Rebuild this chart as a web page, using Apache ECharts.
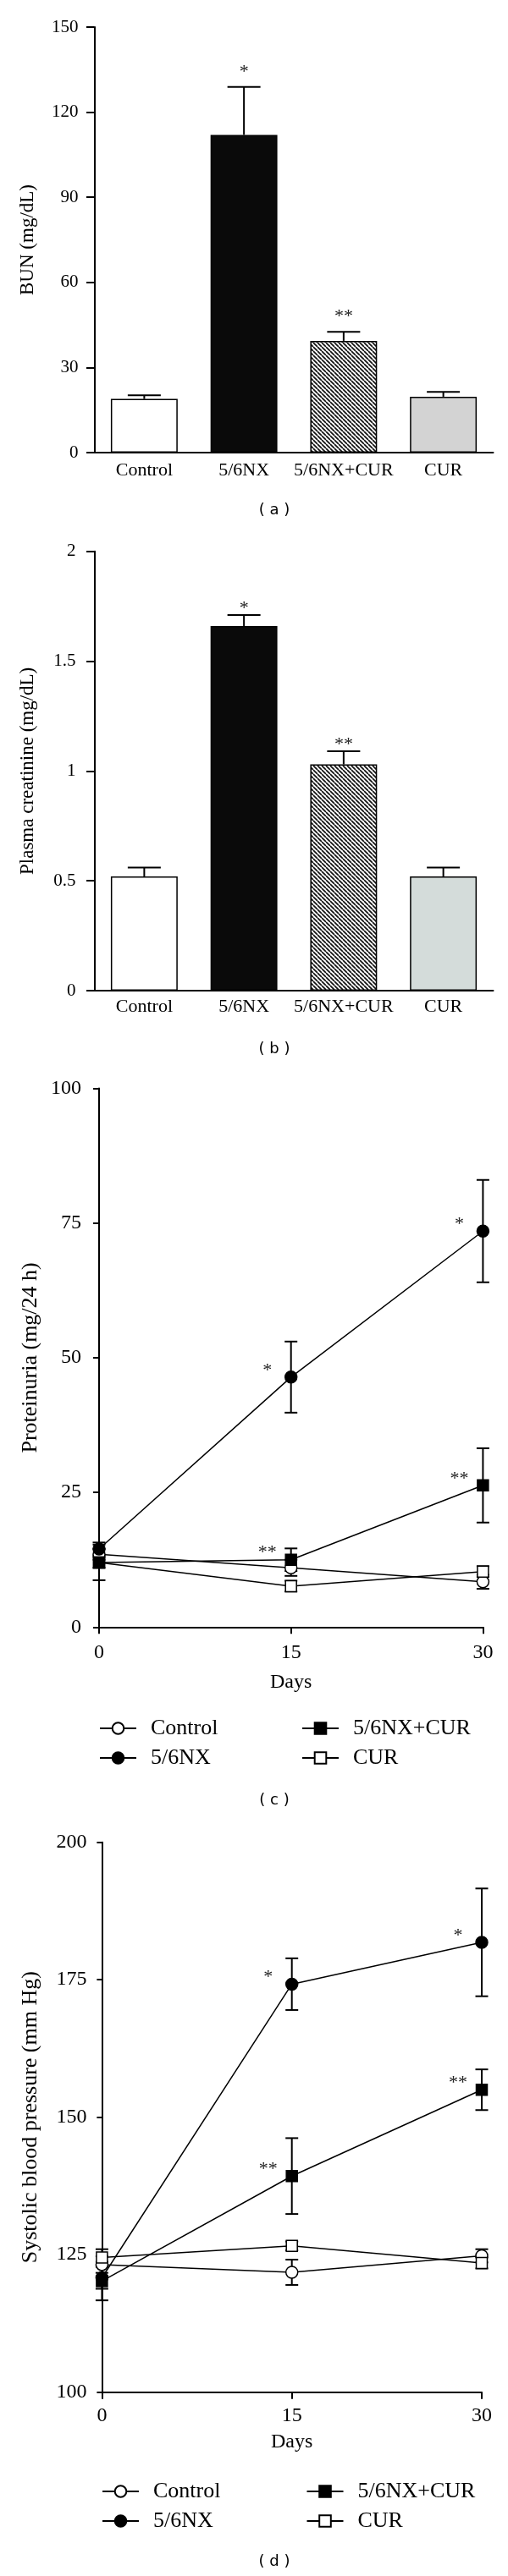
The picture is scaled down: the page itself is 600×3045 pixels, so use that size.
<!DOCTYPE html>
<html>
<head>
<meta charset="utf-8">
<script src="https://cdn.jsdelivr.net/npm/echarts@6/dist/echarts.min.js"></script>
<style>
  body { margin: 0; background: #fff; }
  #main { width: 600px; height: 3045px; }
</style>
</head>
<body>
<div id="main"></div>
<script>
// bar panels (a) and (b)
const groups = ["Control", "5/6NX", "5/6NX+CUR", "CUR"];
const bunMean = [18.9, 112, 39.4, 19.7];
const bunErr = [1.3, 16.9, 3.2, 1.7];
const bunSig = ["", "*", "**", ""];
const creatMean = [0.52, 1.66, 1.03, 0.52];
const creatErr = [0.04, 0.05, 0.06, 0.04];
const creatSig = ["", "*", "**", ""];

// line panels (c) and (d)
const days = [0, 15, 30];
const protControl = [13.5, 11.0, 8.4];
const protControlErr = [1.0, 1.5, 1.3];
const protNx = [14.5, 46.4, 73.5];
const protNxErr = [1.2, 6.6, 9.5];
const protNxCur = [12.0, 12.5, 26.3];
const protNxCurErr = [3.3, 2.1, 6.9];
const protCur = [12.0, 7.6, 10.3];
const protCurErr = [1.0, 1.0, 1.0];
const protNxSig = ["", "*", "*"];
const protNxCurSig = ["", "**", "**"];

const bpControl = [123.2, 121.8, 124.8];
const bpControlErr = [1.5, 2.3, 1.2];
const bpNx = [120.8, 174.2, 181.8];
const bpNxErr = [2.0, 4.7, 9.8];
const bpNxCur = [120.2, 139.3, 155.0];
const bpNxCurErr = [3.5, 6.9, 3.7];
const bpCur = [124.5, 126.6, 123.5];
const bpCurErr = [1.5, 0.8, 1.0];
const bpNxSig = ["", "*", "*"];
const bpNxCurSig = ["", "**", "**"];

const serif = '"Liberation Serif", "Times New Roman", serif';

// diagonal hatch for the 5/6NX+CUR bar
function hatch() {
  const s = 5;
  const c = document.createElement("canvas");
  c.width = s; c.height = s;
  const g = c.getContext("2d");
  g.fillStyle = "#fff";
  g.fillRect(0, 0, s, s);
  g.strokeStyle = "#111";
  g.lineWidth = 1.7;
  [-1, 0, 1].forEach(function (k) {
    g.beginPath();
    g.moveTo(k * s, 0);
    g.lineTo(k * s + s, s);
    g.stroke();
  });
  return { image: c, repeat: "repeat" };
}

function barFills(curColor) {
  return ["#fff", "#0a0a0a", hatch(), curColor];
}

function barSeries(idx, means, curColor) {
  const fills = barFills(curColor);
  return {
    type: "bar",
    xAxisIndex: idx,
    yAxisIndex: idx,
    barWidth: "67%",
    z: 2,
    data: means.map(function (v, i) {
      return { value: v, itemStyle: { color: fills[i] } };
    }),
    itemStyle: { borderColor: "#000", borderWidth: 1.5 },
  };
}

// upper error bar + significance mark over each bar
function barErrSeries(idx, means, errs, sigs, gap) {
  return {
    type: "custom",
    xAxisIndex: idx,
    yAxisIndex: idx,
    z: 3,
    data: means.map(function (v, i) { return [i, v, errs[i]]; }),
    renderItem: function (params, api) {
      const i = api.value(0), m = api.value(1), e = api.value(2);
      const base = api.coord([i, m]);
      const top = api.coord([i, m + e]);
      const st = { stroke: "#000", lineWidth: 2 };
      const kids = [
        { type: "line", shape: { x1: base[0], y1: base[1], x2: top[0], y2: top[1] }, style: st },
        { type: "line", shape: { x1: top[0] - 19.5, y1: top[1], x2: top[0] + 19.5, y2: top[1] }, style: st },
      ];
      const s = sigs[params.dataIndex];
      if (s) {
        kids.push({
          type: "text", x: top[0], y: top[1] - gap,
          style: { text: s, fill: "#222", font: "22px " + serif,
            align: "center", verticalAlign: "middle", textAlign: "center", textVerticalAlign: "middle" },
        });
      }
      return { type: "group", children: kids };
    },
  };
}

function lineSeries(idx, name, values, symbol, filled) {
  return {
    name: name,
    type: "line",
    xAxisIndex: idx,
    yAxisIndex: idx,
    z: 4,
    data: days.map(function (d, i) { return [d, values[i]]; }),
    symbol: symbol,
    symbolSize: symbol === "circle" ? 14 : 13,
    showAllSymbol: true,
    lineStyle: { color: "#000", width: 1.5 },
    itemStyle: { color: filled ? "#000" : "#fff", borderColor: "#000", borderWidth: 1.5 },
    emphasis: { disabled: true },
  };
}

function lineErrSeries(idx, values, errs) {
  return {
    type: "custom",
    xAxisIndex: idx,
    yAxisIndex: idx,
    z: 3,
    data: days.map(function (d, i) { return [d, values[i], errs[i]]; }),
    renderItem: function (params, api) {
      const x = api.value(0), m = api.value(1), e = api.value(2);
      const hi = api.coord([x, m + e]);
      const lo = api.coord([x, m - e]);
      const w = 7.5;
      const st = { stroke: "#000", lineWidth: 2 };
      return {
        type: "group",
        children: [
          { type: "line", shape: { x1: hi[0], y1: hi[1], x2: lo[0], y2: lo[1] }, style: st },
          { type: "line", shape: { x1: hi[0] - w, y1: hi[1], x2: hi[0] + w, y2: hi[1] }, style: st },
          { type: "line", shape: { x1: lo[0] - w, y1: lo[1], x2: lo[0] + w, y2: lo[1] }, style: st },
        ],
      };
    },
  };
}

// asterisks up-left of the points
function sigSeries(idx, values, sigs) {
  return {
    type: "custom",
    xAxisIndex: idx,
    yAxisIndex: idx,
    z: 5,
    data: days.map(function (d, i) { return [d, values[i]]; }),
    renderItem: function (params, api) {
      const s = sigs[params.dataIndex];
      if (!s) return null;
      const p = api.coord([api.value(0), api.value(1)]);
      return {
        type: "text", x: p[0] - 28, y: p[1] - 8,
        style: { text: s, fill: "#222", font: "22px " + serif,
          align: "center", verticalAlign: "middle", textAlign: "center", textVerticalAlign: "middle" },
      };
    },
  };
}

function catAxis(idx, margin) {
  return {
    type: "category",
    gridIndex: idx,
    data: groups,
    axisTick: { show: false },
    axisLine: { lineStyle: { color: "#000", width: 2 } },
    axisLabel: { color: "#000", fontSize: 22, fontFamily: serif, margin: margin, interval: 0, hideOverlap: false },
  };
}

function dayAxis(idx, margin, nameGap) {
  return {
    type: "value",
    gridIndex: idx,
    min: 0, max: 30, interval: 15,
    name: "Days",
    nameLocation: "middle",
    nameGap: nameGap,
    nameTextStyle: { color: "#000", fontSize: 24, fontFamily: serif },
    splitLine: { show: false },
    axisLine: { onZero: false, lineStyle: { color: "#000", width: 2 } },
    axisTick: { length: 8, lineStyle: { color: "#000", width: 2 } },
    axisLabel: { color: "#000", fontSize: 24, fontFamily: serif, margin: margin },
  };
}

function valAxis(idx, min, max, interval, name, opt) {
  return {
    type: "value",
    gridIndex: idx,
    min: min, max: max, interval: interval,
    name: name,
    nameLocation: "middle",
    nameRotate: 90,
    nameGap: opt.nameGap,
    nameTextStyle: { color: "#000", fontSize: opt.nameSize, fontFamily: serif },
    splitLine: { show: false },
    axisLine: { show: true, onZero: false, lineStyle: { color: "#000", width: 2 } },
    axisTick: { show: true, length: opt.tick, lineStyle: { color: "#000", width: 2 } },
    axisLabel: { color: "#000", fontSize: opt.labelSize, fontFamily: serif, margin: opt.margin },
  };
}

function legendBlock(left, top, names) {
  return {
    left: left, top: top,
    orient: "vertical",
    padding: 0,
    itemGap: 5,
    itemWidth: 43,
    itemHeight: 17,
    selectedMode: false,
    data: names,
    textStyle: { color: "#000", fontSize: 26, fontFamily: serif, lineHeight: 30, padding: [0, 0, 0, 12] },
  };
}

function caption(text, y) {
  return {
    type: "text", x: 324, y: y,
    style: { text: text, fill: "#000", font: '18px "DejaVu Sans", Verdana, sans-serif',
      textAlign: "center", textVerticalAlign: "middle", align: "center", verticalAlign: "middle" },
  };
}

var myChart = echarts.init(document.getElementById("main"));
myChart.setOption({
  animation: false,
  backgroundColor: "#fff",
  grid: [
    { left: 111.5, top: 32, width: 471, height: 503 },
    { left: 111.5, top: 651.7, width: 471, height: 519.3 },
    { left: 117, top: 1286.5, width: 453.4, height: 636.8 },
    { left: 120.4, top: 2177.7, width: 448.6, height: 650 },
  ],
  xAxis: [
    catAxis(0, 10),
    catAxis(1, 8),
    dayAxis(2, 18, 53),
    dayAxis(3, 16, 47),
  ],
  yAxis: [
    valAxis(0, 0, 150, 30, "BUN (mg/dL)", { nameGap: 67, nameSize: 23, labelSize: 21, margin: 19, tick: 9.5 }),
    valAxis(1, 0, 2, 0.5, "Plasma creatinine (mg/dL)", { nameGap: 67, nameSize: 23, labelSize: 21, margin: 22, tick: 9.5 }),
    valAxis(2, 0, 100, 25, "Proteinuria (mg/24 h)", { nameGap: 67, nameSize: 26, labelSize: 24, margin: 21, tick: 7 }),
    valAxis(3, 100, 200, 25, "Systolic blood pressure (mm Hg)", { nameGap: 71, nameSize: 26, labelSize: 24, margin: 18, tick: 6 }),
  ],
  legend: [
    legendBlock(117, 2028, ["Control", "5/6NX"]),
    legendBlock(356, 2028, ["5/6NX+CUR", "CUR"]),
    legendBlock(120, 2930, ["Control", "5/6NX"]),
    legendBlock(361.5, 2930, ["5/6NX+CUR", "CUR"]),
  ],
  graphic: [
    caption("( a )", 603),
    caption("( b )", 1240),
    caption("( c )", 2128),
    caption("( d )", 3028),
  ],
  series: [
    barSeries(0, bunMean, "#d3d3d3"),
    barErrSeries(0, bunMean, bunErr, bunSig, 17.5),
    barSeries(1, creatMean, "#d4dcda"),
    barErrSeries(1, creatMean, creatErr, creatSig, 7.5),

    lineErrSeries(2, protControl, protControlErr),
    lineErrSeries(2, protCur, protCurErr),
    lineErrSeries(2, protNxCur, protNxCurErr),
    lineErrSeries(2, protNx, protNxErr),
    lineSeries(2, "Control", protControl, "circle", false),
    lineSeries(2, "CUR", protCur, "rect", false),
    lineSeries(2, "5/6NX+CUR", protNxCur, "rect", true),
    lineSeries(2, "5/6NX", protNx, "circle", true),
    sigSeries(2, protNx, protNxSig),
    sigSeries(2, protNxCur, protNxCurSig),

    lineErrSeries(3, bpControl, bpControlErr),
    lineErrSeries(3, bpCur, bpCurErr),
    lineErrSeries(3, bpNxCur, bpNxCurErr),
    lineErrSeries(3, bpNx, bpNxErr),
    lineSeries(3, "Control", bpControl, "circle", false),
    lineSeries(3, "CUR", bpCur, "rect", false),
    lineSeries(3, "5/6NX+CUR", bpNxCur, "rect", true),
    lineSeries(3, "5/6NX", bpNx, "circle", true),
    sigSeries(3, bpNx, bpNxSig),
    sigSeries(3, bpNxCur, bpNxCurSig),
  ],
});
</script>
</body>
</html>
